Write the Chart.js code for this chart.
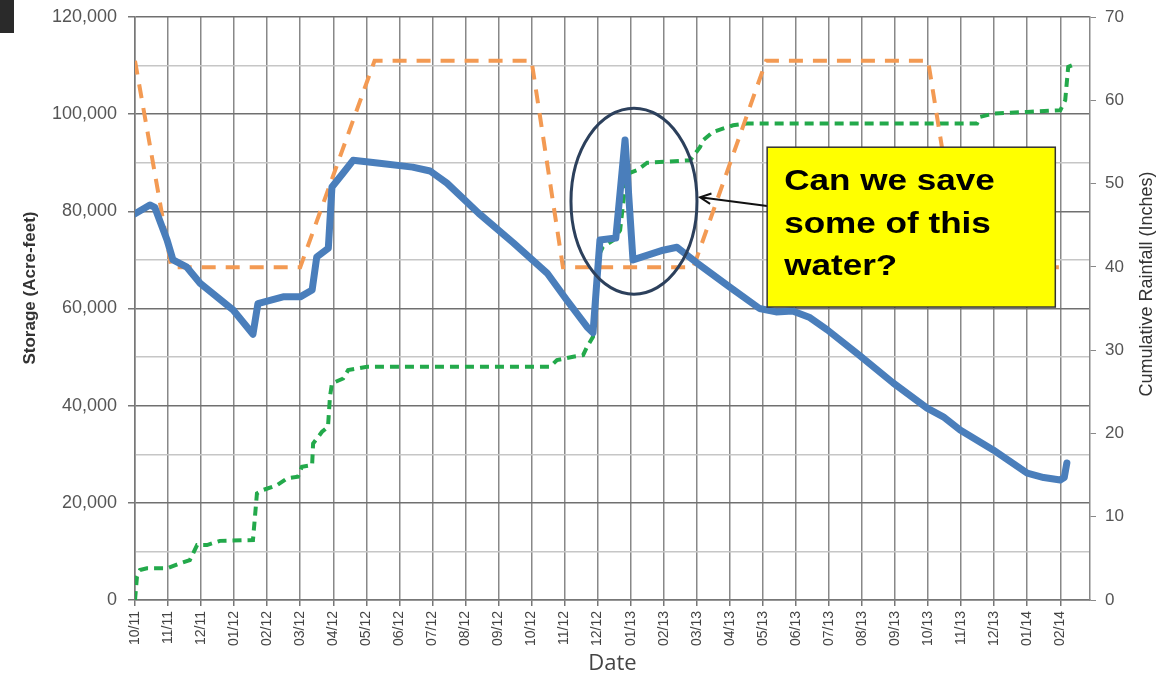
<!DOCTYPE html>
<html>
<head>
<meta charset="utf-8">
<title>Storage and Cumulative Rainfall</title>
<script src="https://cdn.jsdelivr.net/npm/chart.js@4.4.1/dist/chart.umd.min.js"></script>
<style>
  body { margin: 0; background: #fff; }
  #wrap { width: 1163px; height: 673px; }
</style>
</head>
<body>
<div id="wrap"><canvas id="storageChart" width="1163" height="673"></canvas></div>
<script>
'use strict';

// month tick labels, index 0 = 10/11
const monthLabels = ['10/11', '11/11', '12/11', '01/12', '02/12', '03/12', '04/12', '05/12', '06/12',
  '07/12', '08/12', '09/12', '10/12', '11/12', '12/12', '01/13', '02/13', '03/13', '04/13', '05/13',
  '06/13', '07/13', '08/13', '09/13', '10/13', '11/13', '12/13', '01/14', '02/14'];

const storageTicks = [0, 10000, 20000, 30000, 40000, 50000, 60000, 70000, 80000, 90000, 100000, 110000, 120000];
const rainTicks = [0, 10, 20, 30, 40, 50, 60, 70];

// storage (acre-feet), x in months since 10/11
const storageMonth = [0, 0.45, 0.6, 0.97, 1.15, 1.57, 1.97, 2.97, 3.57, 3.72, 4.48, 5.0, 5.36, 5.5, 5.85,
  5.96, 6.3, 6.6, 7.4, 8.4, 8.93, 9.44, 10.4, 11.45, 12.47, 13.07, 13.68, 13.86, 14.07, 14.55, 14.83,
  15.07, 15.98, 16.4, 17.0, 18.0, 18.9, 19.4, 19.9, 20.4, 20.95, 21.9, 22.94, 23.97, 24.46, 24.97,
  25.97, 27.0, 27.5, 28.0, 28.12, 28.2];
const storageAcreFeet = [79500, 81300, 80800, 74100, 70000, 68500, 65200, 59700, 54700, 61000, 62400,
  62400, 63800, 70600, 72400, 85000, 87900, 90500, 89900, 89100, 88300, 85800, 79600, 73500, 67300,
  61700, 56200, 55000, 74100, 74500, 94700, 70000, 72000, 72600, 69400, 64400, 60000, 59300, 59500,
  58200, 55600, 50500, 44700, 39500, 37700, 35000, 30900, 26100, 25200, 24700, 25200, 28200];

// orange dashed target storage (acre-feet)
const targetMonth = [0, 1.1, 5.0, 7.25, 12.0, 12.95, 16.9, 19.1, 24.0, 25.0, 28.2];
const targetAcreFeet = [111000, 68500, 68500, 111000, 111000, 68500, 68500, 111000, 111000, 68500, 68500];

// cumulative rainfall (inches)
const rainMonth = [0, 0.06, 0.15, 0.36, 0.97, 1.36, 1.66, 1.88, 2.18, 2.57, 3.57, 3.69, 3.87, 4.3, 4.6,
  4.93, 5.05, 5.36, 5.39, 5.66, 5.84, 5.9, 5.96, 6.3, 6.45, 7.02, 12.56, 12.77, 13.26, 13.56, 13.68,
  13.86, 14.01, 14.16, 14.47, 14.68, 14.83, 14.92, 15.19, 15.5, 16.8, 17.1, 17.19, 17.49, 18.1, 18.52,
  25.48, 25.57, 25.97, 27.0, 28.0, 28.15, 28.24, 28.36];
const rainInches = [0, 2.8, 3.6, 3.8, 3.8, 4.4, 4.8, 6.6, 6.6, 7.1, 7.2, 12.8, 13.2, 13.8, 14.6, 14.8,
  16.0, 16.2, 18.8, 20.2, 20.8, 24.4, 26.0, 26.6, 27.6, 28.0, 28.0, 28.8, 29.2, 29.4, 30.4, 31.6, 41.2,
  42.4, 43.2, 44.4, 49.6, 51.2, 51.6, 52.5, 52.8, 54.4, 55.2, 56.2, 57.0, 57.2, 57.2, 58.0, 58.4, 58.6,
  58.8, 60.0, 64.0, 64.2];

const calloutLines = ['Can we save', 'some of this', 'water?'];

const toPoints = function (xs, ys) {
  return xs.map((x, i) => ({ x: x, y: ys[i] }));
}

const isMajor = function (ctx) {
  return ctx.tick && ctx.tick.value % 20000 === 0;
}

// keep the plot area where the picture has it
const fitVertical = function (width) {
  return function (s) {
    s.width = width;
    s.paddingTop = 0;
    s.paddingBottom = 0;
  }
}

// titles, circle, arrow and yellow callout
const extrasPlugin = {
  id: 'extras',
  afterDraw(chart) {
    const c = chart.ctx;
    const xs = chart.scales.x;
    const ys = chart.scales.y;
    const area = chart.chartArea;

    c.save();
    c.fillStyle = '#2a2a2a';
    c.fillRect(0, 0, 14, 33);

    // axis titles
    c.fillStyle = '#333';
    c.textAlign = 'center';
    c.textBaseline = 'middle';
    c.save();
    c.translate(30, 288);
    c.rotate(-Math.PI / 2);
    c.font = 'bold 17px "Liberation Sans"';
    c.fillText('Storage (Acre-feet)', 0, 0);
    c.restore();

    c.save();
    c.translate(1147, 284);
    c.rotate(-Math.PI / 2);
    c.font = '18px "Liberation Sans"';
    c.fillText('Cumulative Rainfall (Inches)', 0, 0);
    c.restore();

    c.fillStyle = '#444';
    c.textBaseline = 'alphabetic';
    c.font = '22px "Open Sans"';
    c.fillText('Date', (area.left + area.right) / 2, 670);

    // circle round the spike
    c.strokeStyle = '#2c405c';
    c.lineWidth = 3;
    c.beginPath();
    c.ellipse(xs.getPixelForValue(15.1), ys.getPixelForValue(82100), 63, 93, 0, 0, Math.PI * 2);
    c.stroke();

    // callout box
    const boxL = xs.getPixelForValue(19.13);
    const boxR = xs.getPixelForValue(27.85);
    const boxT = ys.getPixelForValue(93200);
    const boxB = ys.getPixelForValue(60300);

    // arrow
    const ax = xs.getPixelForValue(17.1);
    const ay = ys.getPixelForValue(82900);
    const bx = boxL;
    const by = ys.getPixelForValue(81100);
    const ang = Math.atan2(ay - by, ax - bx);
    c.strokeStyle = '#111';
    c.lineWidth = 2;
    c.beginPath();
    c.moveTo(bx, by);
    c.lineTo(ax, ay);
    c.moveTo(ax - 12 * Math.cos(ang - 0.45), ay - 12 * Math.sin(ang - 0.45));
    c.lineTo(ax, ay);
    c.lineTo(ax - 12 * Math.cos(ang + 0.45), ay - 12 * Math.sin(ang + 0.45));
    c.stroke();

    c.fillStyle = '#ffff00';
    c.fillRect(boxL, boxT, boxR - boxL, boxB - boxT);
    c.strokeStyle = '#333';
    c.lineWidth = 1.5;
    c.strokeRect(boxL, boxT, boxR - boxL, boxB - boxT);

    c.fillStyle = '#000';
    c.textAlign = 'left';
    c.font = 'bold 30px "Liberation Sans"';
    for (let i = 0; i < calloutLines.length; i++) {
      c.save();
      c.translate(boxL + 17, boxT + 43 + i * 42.5);
      c.scale(1.17, 1);
      c.fillText(calloutLines[i], 0, 0);
      c.restore();
    }
    c.restore();
  }
};

const ctx = document.getElementById('storageChart').getContext('2d');

new Chart(ctx, {
  type: 'line',
  data: {
    datasets: [{
      label: 'Storage',
      data: toPoints(storageMonth, storageAcreFeet),
      yAxisID: 'y',
      borderColor: '#4a7ebb',
      borderWidth: 7,
      borderJoinStyle: 'round',
      borderCapStyle: 'round',
      pointRadius: 0,
      tension: 0
    }, {
      label: 'Target',
      data: toPoints(targetMonth, targetAcreFeet),
      yAxisID: 'y',
      borderColor: '#f39a53',
      borderWidth: 4,
      borderDash: [14, 10],
      pointRadius: 0,
      tension: 0
    }, {
      label: 'Cumulative Rainfall',
      data: toPoints(rainMonth, rainInches),
      yAxisID: 'yRain',
      borderColor: '#23a94b',
      borderWidth: 4,
      borderDash: [9, 6],
      pointRadius: 0,
      tension: 0
    }]
  },
  options: {
    responsive: false,
    animation: false,
    layout: { padding: { top: 17 } },
    plugins: {
      legend: { display: false },
      tooltip: { enabled: false }
    },
    scales: {
      x: {
        type: 'linear',
        min: 0,
        max: 28.9,
        afterBuildTicks: (s) => { s.ticks = monthLabels.map((_, i) => ({ value: i })); },
        afterFit: (s) => { s.height = 73; },
        ticks: {
          autoSkip: false,
          minRotation: 90,
          maxRotation: 90,
          padding: 5,
          color: '#444',
          font: { family: 'Liberation Sans', size: 14 },
          callback: (v) => monthLabels[v]
        },
        grid: { color: '#888', lineWidth: 1.5, tickLength: 6, tickColor: '#777' },
        border: { color: '#777', width: 1.5 }
      },
      y: {
        position: 'left',
        min: 0,
        max: 120000,
        afterBuildTicks: (s) => { s.ticks = storageTicks.map(v => ({ value: v })); },
        afterFit: fitVertical(135),
        ticks: {
          padding: 11,
          color: '#555',
          font: { family: 'Liberation Sans', size: 18 },
          callback: (v) => v % 20000 === 0 ? v.toLocaleString('en-US') : ''
        },
        grid: {
          color: (c) => isMajor(c) ? '#707070' : '#c6c6c6',
          lineWidth: 1.5,
          tickLength: 7,
          tickColor: (c) => isMajor(c) ? '#777' : 'rgba(0,0,0,0)'
        },
        border: { color: '#777', width: 1.5 }
      },
      yRain: {
        position: 'right',
        min: 0,
        max: 70,
        afterBuildTicks: (s) => { s.ticks = rainTicks.map(v => ({ value: v })); },
        afterFit: fitVertical(73),
        ticks: {
          padding: 9,
          color: '#555',
          font: { family: 'Liberation Sans', size: 17 }
        },
        grid: { drawOnChartArea: false, tickLength: 6, tickColor: '#888' },
        border: { color: '#888', width: 1.5 }
      }
    }
  },
  plugins: [extrasPlugin]
});
</script>
</body>
</html>
